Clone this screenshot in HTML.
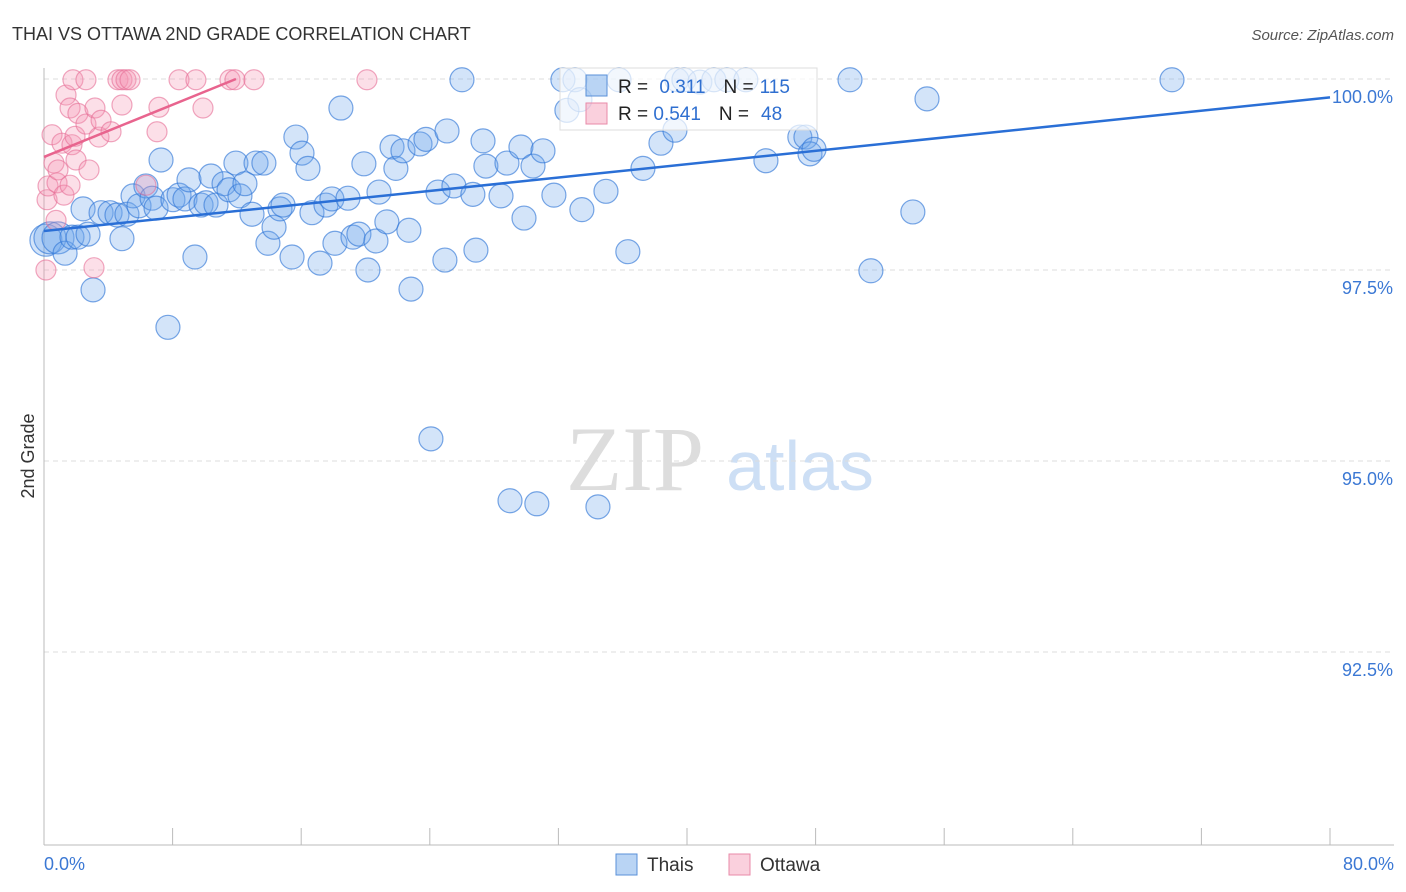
<!DOCTYPE html>
<html><head><meta charset="utf-8"><style>
body{margin:0;background:#fff;font-family:"Liberation Sans",sans-serif;}
svg{display:block}
</style></head><body>
<svg id="chart" width="1406" height="892" xmlns="http://www.w3.org/2000/svg">
<text x="12" y="40" font-size="18" fill="#333">THAI VS OTTAWA 2ND GRADE CORRELATION CHART</text>
<text x="1394" y="40" font-size="15" fill="#555" font-style="italic" text-anchor="end">Source: ZipAtlas.com</text>
<g>
<text x="635" y="490" font-size="92" fill="#ddd" font-family="Liberation Serif,serif" text-anchor="middle">ZIP</text>
<text x="800" y="490" font-size="70" fill="#cddff5" text-anchor="middle">atlas</text>
</g>
<g id="grid"></g>
<g id="axes"></g>
<g id="pts"></g>
<g id="trend"></g>
<text x="34" y="456" font-size="18" fill="#333" text-anchor="middle" transform="rotate(-90 34 456)">2nd Grade</text>
<g>
<rect x="560" y="68" width="257" height="62" fill="rgba(255,255,255,0.7)" stroke="#ddd"/>
<rect x="586" y="75" width="21" height="21" fill="rgba(100,160,230,0.45)" stroke="#5a90d8"/>
<rect x="586" y="103" width="21" height="21" fill="rgba(245,150,180,0.45)" stroke="#e88aa8"/>
<text x="618" y="93" font-size="19" fill="#222">R = <tspan fill="#2f6fd0" dx="6">0.311</tspan><tspan fill="#222" dx="18">N =</tspan><tspan fill="#2f6fd0" dx="6">115</tspan></text>
<text x="618" y="120" font-size="19" fill="#222">R = <tspan fill="#2f6fd0">0.541</tspan><tspan fill="#222" dx="18">N =</tspan><tspan fill="#2f6fd0" dx="12">48</tspan></text>
</g>
<g>
<rect x="616" y="854" width="21" height="21" fill="rgba(100,160,230,0.45)" stroke="#5a90d8"/>
<text x="647" y="871" font-size="19" fill="#333">Thais</text>
<rect x="729" y="854" width="21" height="21" fill="rgba(245,150,180,0.45)" stroke="#e88aa8"/>
<text x="760" y="871" font-size="19" fill="#333">Ottawa</text>
</g>
</svg>
<script>
const yTicks=[100,97.5,95,92.5];
const yTickLabels=["100.0%","97.5%","95.0%","92.5%"];
const xTicks=[0,8,16,24,32,40,48,56,64,72,80];
const xEndLabels=["0.0%","80.0%"];
const thaiX=[0.12,0.37,0.87,1.31,1.74,2.12,2.74,3.05,2.43,3.55,4.11,4.54,4.85,5.16,5.54,5.91,6.34,6.72,6.97,7.28,7.71,8.02,8.40,8.77,9.02,9.39,9.77,10.08,10.39,10.70,11.20,11.51,11.94,12.19,12.50,12.94,13.19,13.68,13.93,14.31,14.68,14.87,15.43,15.67,16.05,16.42,16.67,17.17,17.54,17.91,18.10,18.47,18.91,19.22,19.59,19.90,20.15,20.65,20.84,21.33,21.65,21.89,22.33,22.70,22.83,23.39,23.76,24.07,24.51,24.94,25.07,25.50,26.00,26.68,26.87,27.31,27.49,28.43,28.80,28.99,29.67,29.86,30.42,30.66,31.04,31.72,32.28,32.53,33.03,33.46,33.34,34.46,34.96,35.77,36.32,37.26,38.38,39.25,39.37,39.81,40.80,41.67,42.48,43.66,44.91,47.02,47.40,47.65,47.90,50.14,51.44,54.05,54.93,70.17];
const thaiY=[97.89,97.92,97.92,97.72,97.93,97.93,97.97,97.24,98.30,98.25,98.25,98.22,97.91,98.23,98.47,98.34,98.60,98.44,98.31,98.94,96.75,98.42,98.48,98.43,98.68,97.67,98.35,98.38,98.73,98.35,98.63,98.55,98.90,98.47,98.63,98.23,98.90,98.90,97.85,98.06,98.30,98.35,97.67,99.24,99.03,98.83,98.25,97.59,98.35,98.43,97.85,99.62,98.44,97.93,97.97,98.89,97.50,97.88,98.52,98.13,99.11,98.83,99.06,98.02,97.25,99.15,99.21,95.29,98.52,97.63,99.32,98.60,99.99,98.49,97.76,99.19,98.86,98.47,98.90,94.48,99.11,98.18,98.86,94.44,99.06,98.48,99.99,99.59,99.99,98.29,99.73,94.40,98.53,99.99,97.74,98.83,99.16,99.33,99.99,99.99,99.96,99.99,99.99,99.99,98.93,99.24,99.24,99.02,99.08,99.99,97.49,98.26,99.74,99.99];
const ottX=[0.12,0.19,0.25,0.50,0.62,0.81,0.87,1.12,1.24,1.37,1.62,1.74,1.62,1.80,1.93,1.99,2.11,2.61,2.61,2.80,3.11,3.17,3.42,3.55,4.17,4.60,4.85,5.10,5.35,4.85,6.34,7.03,7.15,8.40,9.45,9.89,11.57,11.88,13.06,20.09,0.75];
const ottY=[97.50,98.42,98.60,99.27,98.90,98.64,98.81,99.16,98.48,99.79,98.61,99.14,99.62,99.99,99.25,98.94,99.55,99.99,99.41,98.81,97.53,99.62,99.24,99.46,99.31,99.99,99.99,99.99,99.99,99.66,98.61,99.31,99.63,99.99,99.99,99.62,99.99,99.99,99.99,99.99,98.15];
const thaiTrend=[[0,98.01],[80,99.76]];
const ottTrend=[[0,98.98],[11.94,100.0]];
const NS="http://www.w3.org/2000/svg";
const X=v=>44+v/80*1286;
const Y=v=>79+(100-v)/2.5*191;
function mk(t,a,p){const e=document.createElementNS(NS,t);for(const k in a)e.setAttribute(k,a[k]);p.appendChild(e);return e;}
const grid=document.getElementById('grid'),axes=document.getElementById('axes'),pts=document.getElementById('pts'),trend=document.getElementById('trend');
yTicks.forEach((v,i)=>{
 const l=mk('line',{x1:44,x2:1394,y1:Y(v),y2:Y(v),stroke:'#ddd','stroke-dasharray':'5,4'},grid);
 
 
 const t=mk('text',{x:1393,y:Y(v)+24,'font-size':18,fill:'#3b78d4','text-anchor':'end'},axes);
 t.textContent=yTickLabels[i];
 
 
});
const ax=mk('line',{x1:44,x2:1394,y1:845,y2:845,stroke:'#bbb'},axes);


const ay=mk('line',{x1:44,x2:44,y1:68,y2:845,stroke:'#bbb'},axes);


xTicks.forEach(v=>{
 const l=mk('line',{x1:X(v),x2:X(v),y1:828,y2:845,stroke:'#bbb'},axes);
 
 
});
[[0,'start',44],[80,'end',1394]].forEach((d,i)=>{
 const t=mk('text',{x:d[2],y:870,'font-size':18,fill:'#3b78d4','text-anchor':d[1]},axes);
 t.textContent=xEndLabels[i];
 
 
});
thaiX.forEach((x,i)=>{
 const c=mk('circle',{cx:X(x),cy:Y(thaiY[i]),r:i<3?16:12,fill:'rgba(110,165,235,0.3)',stroke:'rgba(50,120,215,0.65)','stroke-width':1.2},pts);
 
 
});
ottX.forEach((x,i)=>{
 const c=mk('circle',{cx:X(x),cy:Y(ottY[i]),r:10,fill:'rgba(245,150,180,0.3)',stroke:'rgba(230,110,150,0.6)','stroke-width':1.2},pts);
 
 
});
const tl=mk('line',{x1:X(thaiTrend[0][0]),y1:Y(thaiTrend[0][1]),x2:X(thaiTrend[1][0]),y2:Y(thaiTrend[1][1]),stroke:'#2a6fd6','stroke-width':2.5},trend);


const ol=mk('line',{x1:X(ottTrend[0][0]),y1:Y(ottTrend[0][1]),x2:X(ottTrend[1][0]),y2:Y(ottTrend[1][1]),stroke:'#e8648e','stroke-width':2.5},trend);


</script>
</body></html>
